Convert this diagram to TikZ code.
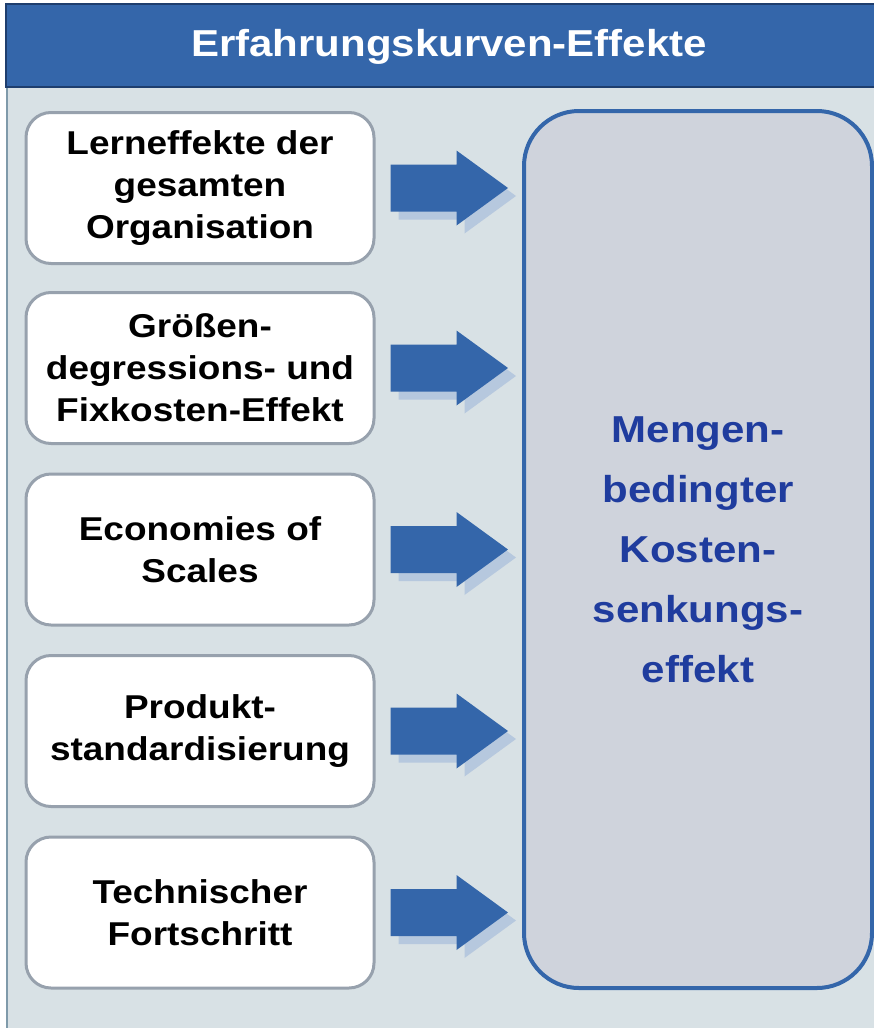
\documentclass[tikz,border=0pt]{standalone}
\usepackage{fontspec}
\setmainfont[FakeStretch=1.12]{Liberation Sans}
\usetikzlibrary{calc}
\definecolor{headblue}{HTML}{3466AA}
\definecolor{headline}{HTML}{1E3E6E}
\definecolor{panelbg}{HTML}{D8E1E5}
\definecolor{panelline}{HTML}{7F9AAA}
\definecolor{boxgray}{HTML}{97A1AD}
\definecolor{resfill}{HTML}{CFD3DC}
\definecolor{restext}{HTML}{1F3C9E}
\definecolor{shadeblue}{HTML}{B6C8DE}
\tikzset{
  cause/.style={draw=boxgray, line width=3pt, fill=white, rounded corners=25pt,
    minimum width=348pt, minimum height=151pt, align=center,
    font=\bfseries\fontsize{33}{42}\selectfont},
  result/.style={draw=headblue, line width=4pt, fill=resfill, rounded corners=55pt,
    minimum width=348pt, minimum height=877pt, align=center, text=restext,
    font=\bfseries\fontsize{37.5}{60}\selectfont},
  flow/.style={to path={($(\tikztostart)+(0,-23.5)$) -- ($(\tikztostart)+(66,-23.5)$)
    -- ($(\tikztostart)+(66,-37.5)$) -- (\tikztotarget) -- ($(\tikztostart)+(66,37.5)$)
    -- ($(\tikztostart)+(66,23.5)$) -- ($(\tikztostart)+(0,23.5)$) -- cycle}}
}

\begin{document}
\begin{tikzpicture}[x=1pt,y=-1pt]
  \useasboundingbox (0,0) rectangle (874,1028);
  % background and title bar
  \fill[panelbg] (7,88) rectangle (880,1030);
  \draw[panelline, line width=2pt] (7,88) -- (7,1030);
  \draw[headline, fill=headblue, line width=2pt] (6,4) rectangle (885,87);
  \node[text=white, font=\bfseries\fontsize{37.5}{45}\selectfont] (title) at (449,47) {Erfahrungskurven-Effekte};

  % effects
  \node[cause] (l1) at (200,188) {Lerneffekte der\\gesamten\\Organisation};
  \node[cause] (l2) at (200,368) {Größen-\\degressions- und\\Fixkosten-Effekt};
  \node[cause] (l3) at (200,549.5) {Economies of\\Scales};
  \node[cause] (l4) at (200,731) {Produkt-\\standardisierung};
  \node[cause] (l5) at (200,912.5) {Technischer\\Fortschritt};

  \node[result] (res) at (698,549.5) {Mengen-\\bedingter\\Kosten-\\senkungs-\\effekt};

  % arrows
  \foreach \i in {1,...,5}{
    \coordinate (s\i) at ([xshift=15pt]l\i.east);
    \coordinate (t\i) at ([xshift=-14pt]l\i.east -| res.west);
    \fill[shadeblue] ($(s\i)+(8,8)$) to[flow] ($(t\i)+(8,8)$);
    \fill[headblue] (s\i) to[flow] (t\i);
  }
\end{tikzpicture}
\end{document}
